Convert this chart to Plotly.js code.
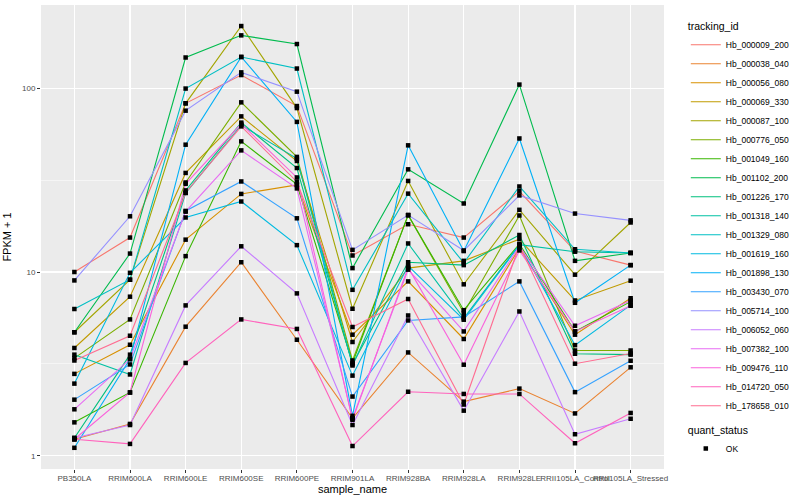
<!DOCTYPE html>
<html><head><meta charset="utf-8">
<script src="https://cdn.plot.ly/plotly-3.0.1.min.js"></script>
<style>body{margin:0;background:#fff}#chart{width:800px;height:500px}</style>
</head><body><div id="chart"></div>
<script>
const samples = ["PB350LA","RRIM600LA","RRIM600LE","RRIM600SE","RRIM600PE","RRIM901LA","RRIM928BA","RRIM928LA","RRIM928LE","RRII105LA_Control","RRII105LA_Stressed"];
const trackingIds = ["Hb_000009_200","Hb_000038_040","Hb_000056_080","Hb_000069_330","Hb_000087_100","Hb_000776_050","Hb_001049_160","Hb_001102_200","Hb_001226_170","Hb_001318_140","Hb_001329_080","Hb_001619_160","Hb_001898_130","Hb_003430_070","Hb_005714_100","Hb_006052_060","Hb_007382_100","Hb_009476_110","Hb_014720_050","Hb_178658_010"];
const colors = ["#F8766D","#EA8331","#D89000","#C09B00","#A3A500","#7CAE00","#39B600","#00BB4E","#00BF7D","#00C1A3","#00BFC4","#00BAE0","#00B0F6","#35A2FF","#9590FF","#C77CFF","#E76BF3","#FA62DB","#FF62BC","#FF6C91"];

const Hb_000009_200 = [10.0, 15.4, 82.8, 118, 80, 12.3, 18.2, 15.4, 27.5, 13.0, 10.9];
const Hb_000038_040 = [1.23, 1.49, 5.04, 11.3, 4.28, 1.6, 3.65, 1.97, 2.32, 1.70, 3.03];
const Hb_000056_080 = [2.79, 4.02, 15.0, 26.6, 29.8, 4.56, 8.89, 4.32, 13.5, 4.56, 7.2];
const Hb_000069_330 = [3.86, 7.34, 34.6, 70.3, 40.2, 4.16, 10.5, 11.5, 15.1, 7.0, 8.97];
const Hb_000087_100 = [4.7, 9.08, 82.8, 218, 78, 6.31, 31.3, 8.57, 21.8, 9.67, 18.6];
const Hb_000776_050 = [3.4, 5.52, 30.7, 83.8, 42.3, 3.3, 20.4, 6.0, 20.3, 3.74, 3.74];
const Hb_001049_160 = [1.52, 2.21, 12.2, 51.4, 30.0, 3.2, 20.4, 6.2, 14.2, 4.75, 6.9];
const Hb_001102_200 = [4.7, 12.6, 147, 194, 174, 10.5, 36.2, 23.6, 104.7, 11.5, 12.7];
const Hb_001226_170 = [1.25, 3.55, 27.8, 65, 36.8, 3.15, 11.3, 10.9, 15.9, 3.59, 3.55];
const Hb_001318_140 = [3.55, 2.77, 26.9, 63, 41.4, 3.1, 14.3, 5.6, 14.1, 12.9, 12.7];
const Hb_001329_080 = [6.29, 9.08, 99.6, 148, 128, 8.0, 26.7, 11.2, 29.2, 13.3, 12.7];
const Hb_001619_160 = [2.47, 9.9, 19.8, 24.2, 14.0, 2.73, 10.8, 5.5, 14.0, 4.0, 6.6];
const Hb_001898_130 = [1.105, 3.36, 49.3, 148, 65.6, 1.65, 48.9, 13.0, 53.3, 6.8, 10.9];
const Hb_003430_070 = [2.02, 3.14, 21.5, 31.1, 19.6, 2.10, 5.45, 5.7, 8.89, 2.22, 3.29];
const Hb_005714_100 = [9.0, 20.1, 75.5, 122, 95.8, 13.2, 20.4, 13.1, 26.1, 20.8, 19.1];
const Hb_006052_060 = [1.25, 1.47, 6.58, 13.8, 7.65, 1.47, 5.8, 1.76, 6.1, 1.31, 1.59];
const Hb_007382_100 = [1.79, 3.36, 21.3, 45.9, 28.5, 1.6, 10.3, 4.75, 13.8, 5.1, 7.0];
const Hb_009476_110 = [1.23, 2.21, 30.2, 64, 32.7, 1.57, 10.6, 3.13, 13.1, 4.75, 6.55];
const Hb_014720_050 = [1.23, 1.16, 3.2, 5.52, 4.9, 1.13, 2.23, 2.17, 2.17, 1.17, 1.71];
const Hb_178658_010 = [3.30, 4.5, 27, 62, 31, 5.02, 7.13, 1.9, 14.0, 3.17, 3.6];

const series = [Hb_000009_200,Hb_000038_040,Hb_000056_080,Hb_000069_330,Hb_000087_100,Hb_000776_050,Hb_001049_160,Hb_001102_200,Hb_001226_170,Hb_001318_140,Hb_001329_080,Hb_001619_160,Hb_001898_130,Hb_003430_070,Hb_005714_100,Hb_006052_060,Hb_007382_100,Hb_009476_110,Hb_014720_050,Hb_178658_010];

const yTickVals = [1, 10, 100];
const yTickText = ["1", "10", "100"];

const traces = series.map((vals, i) => ({
  type: "scatter", mode: "lines", x: samples, y: vals,
  name: trackingIds[i], line: {color: colors[i], width: 1.1},
  legend: "legend"
}));
let px = [], py = [];
series.forEach(vals => { px = px.concat(samples); py = py.concat(vals); });
traces.push({
  type: "scatter", mode: "markers", x: px, y: py, name: "OK",
  marker: {symbol: "square", size: 4.5, color: "black"},
  legend: "legend2"
});

const layout = {
  width: 800, height: 500,
  margin: {l: 41, r: 117, t: 5, b: 31},
  paper_bgcolor: "#FFFFFF", plot_bgcolor: "#EBEBEB",
  font: {family: "Liberation Sans, Arial, sans-serif", color: "#000"},
  xaxis: {
    type: "category", categoryorder: "array", categoryarray: samples,
    range: [-0.6, 10.6], showgrid: true, gridcolor: "#FFFFFF", gridwidth: 1.1,
    zeroline: false, showline: false, ticks: "outside", ticklen: 3, tickcolor: "#333333",
    tickangle: 0, tickfont: {size: 8, color: "#4D4D4D"}, ticklabelstandoff: -2,
    title: {text: "sample_name", font: {size: 11, color: "#000"}, standoff: 1}
  },
  yaxis: {
    type: "log", range: [-0.072, 2.453], tickvals: yTickVals, ticktext: yTickText,
    showgrid: true, gridcolor: "#FFFFFF", gridwidth: 1.1, zeroline: false, showline: false,
    ticks: "outside", ticklen: 3, tickcolor: "#333333",
    tickfont: {size: 8, color: "#4D4D4D"},
    minor: {tickvals: [3.1623, 31.623], showgrid: true, gridcolor: "#FFFFFF", gridwidth: 0.5, ticks: ""},
    title: {text: "FPKM + 1", font: {size: 11, color: "#000"}, standoff: 8}
  },
  legend: {
    x: 1.035, xanchor: "left", y: 0.975, yanchor: "top",
    bgcolor: "rgba(0,0,0,0)", font: {size: 8.5},
    title: {text: "tracking_id", font: {size: 10.5}},
    tracegroupgap: 0
  },
  legend2: {
    x: 1.035, xanchor: "left", y: 0.105, yanchor: "top",
    bgcolor: "rgba(0,0,0,0)", font: {size: 8.5},
    title: {text: "quant_status", font: {size: 10.5}}
  },
  showlegend: true
};
Plotly.newPlot("chart", traces, layout, {displayModeBar: false, staticPlot: true});
</script></body></html>
